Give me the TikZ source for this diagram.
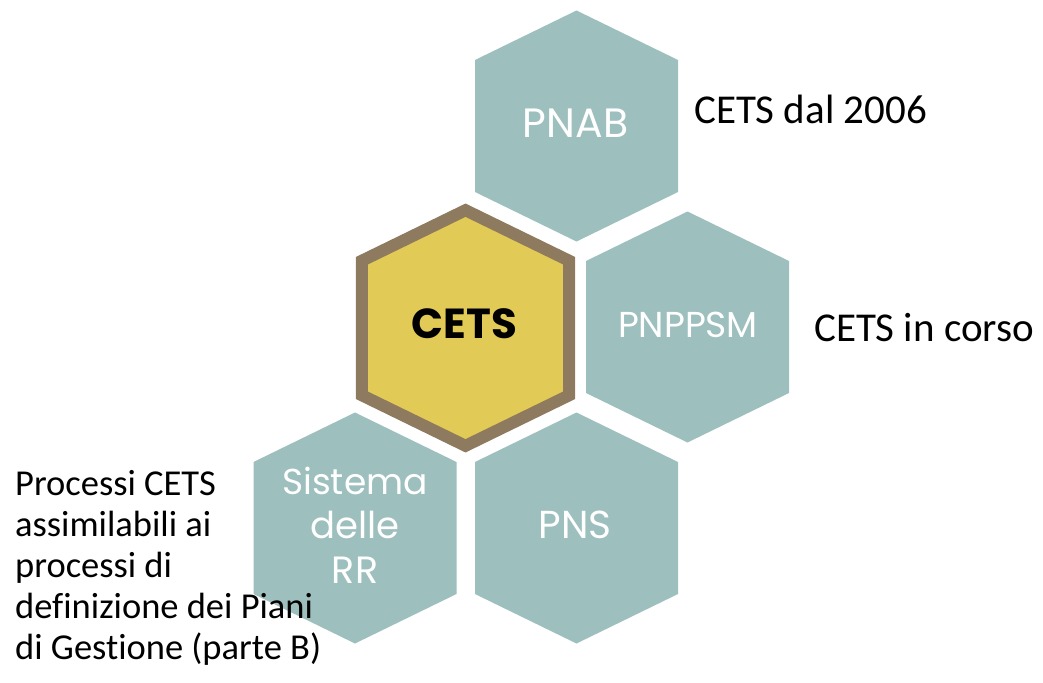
\documentclass[tikz,border=0pt]{standalone}
\usepackage{fontspec}
\setmainfont{Carlito}[Ligatures={NoCommon}]
\newfontfamily\hexfont{Poppins}
\definecolor{hexgrey}{HTML}{9DBFBE}
\definecolor{cetsyellow}{HTML}{E2CA57}
\definecolor{cetsbrown}{HTML}{8E7A5F}
\newcommand\hexshape{(0,-115.5) -- (101.5,-66) -- (101.5,66) -- (0,115.5) -- (-101.5,66) -- (-101.5,-66) -- cycle}
\begin{document}
\begin{tikzpicture}[x=1pt,y=-1pt,
  greyhex/.style={fill=hexgrey},
  centrehex/.style={fill=cetsyellow, draw=cetsbrown, line width=12pt, line join=miter},
  hexlabel/.style={text=white, inner sep=0pt, anchor=base},
  sidetext/.style={font=\fontsize{41}{41}\selectfont, anchor=base west, inner sep=0pt},
  lefttext/.style={font=\fontsize{36.5}{41}\selectfont, anchor=base west, inner sep=0pt, align=left}
]
\useasboundingbox (0,0) rectangle (1043,682);
% hexagons
\path[greyhex, shift={(576.5,126)}] \hexshape;
\path[greyhex, shift={(687.5,327)}] \hexshape;
\path[greyhex, shift={(355,528)}] \hexshape;
\path[greyhex, shift={(576.5,528)}] \hexshape;
\path[centrehex, shift={(465.5,328)}, scale=1.02] \hexshape;
% labels
\node[hexlabel, font=\hexfont\fontsize{41}{41}\selectfont] (pnab) at (575.5,137) {PNAB};
\node[hexlabel, text=black, font=\hexfont\bfseries\fontsize{42}{42}\selectfont] (cets) at (464.5,338) {CETS};
\node[hexlabel, font=\hexfont\fontsize{36}{36}\selectfont] (pnppsm) at (688,337) {PNPPSM};
\node[hexlabel, font=\hexfont\fontsize{36}{36}\selectfont] (rr1) at (355,494) {Sistema};
\node[hexlabel, font=\hexfont\fontsize{37}{37}\selectfont] (rr2) at (355,538) {delle};
\node[hexlabel, font=\hexfont\fontsize{38}{38}\selectfont] (rr3) at (355,583) {RR};
\node[hexlabel, font=\hexfont\fontsize{39}{39}\selectfont] (pns) at (575,538) {PNS};
% side texts
\node[sidetext] (dal) at (694,123.3) {CETS dal 2006};
\node[sidetext] (corso) at (814,341.7) {CETS in corso};
\node[lefttext] (proc) at (15,659) {Processi CETS\\assimilabili ai\\processi di\\definizione dei Piani\\di Gestione (parte B)};
\end{tikzpicture}
\end{document}
